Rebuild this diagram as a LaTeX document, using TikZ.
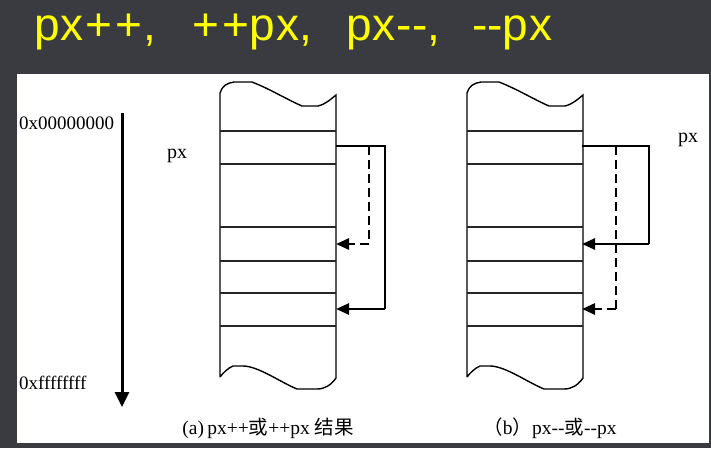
\documentclass[tikz,border=0pt]{standalone}
\usepackage{fontspec}
\setmainfont[Ligatures=NoCommon]{Liberation Serif}
\newfontfamily\titlefont{Liberation Sans}
\newfontfamily\cjk{Noto Sans CJK SC}
\usetikzlibrary{arrows.meta}
\definecolor{bgdark}{RGB}{58,59,64}
\definecolor{titleyellow}{RGB}{255,255,0}
\tikzset{
  stackline/.style={line width=1.4pt, draw=black},
  rowline/.style={line width=1.6pt, draw=black!85},
  conn/.style={line width=1.6pt, draw=black},
  shaft/.style={line width=2.6pt, draw=black, -{Triangle[length=13pt,width=11pt]}},
  dashconn/.style={line width=2.8pt, draw=black, dash pattern=on 9pt off 5pt},
  dashtip/.style={line width=2.8pt, draw=black, dash pattern=on 9pt off 5pt, -{Triangle[length=13pt,width=11pt]}},
  lbl/.style={inner sep=0pt, font=\fontsize{19}{19}\selectfont},
  pxlbl/.style={inner sep=0pt, font=\fontsize{20}{20}\selectfont},
  caption/.style={inner sep=0pt, font=\fontsize{19.5}{19.5}\selectfont},
}
\newcommand{\memstack}{%
  \draw[stackline] (220,377) -- (220,93)
    .. controls (222,86) and (227,83) .. (234,82) -- (252,82)
    .. controls (270,89) and (288,100) .. (302,106) -- (318,106)
    .. controls (326,104) and (331,99) .. (336,95)
    -- (336,378)
    .. controls (331,385) and (325,389) .. (317,389) -- (297,389)
    .. controls (280,382) and (258,366) .. (243,366) -- (233,366)
    .. controls (228,368) and (223,373) .. (220,377);
  \foreach \yy in {131,164,227,261,293,326}
    \draw[rowline] (220,\yy) -- (336,\yy);
}
\begin{document}
\begin{tikzpicture}[x=1pt,y=-1pt]
\useasboundingbox (0,0) rectangle (711,448);
\fill[bgdark] (0,0) rectangle (711,448);
\fill[white] (17,74) rectangle (709,443);

% title
\node[anchor=base west, inner sep=0pt, text=titleyellow,
      font=\titlefont\fontsize{46}{46}\selectfont] (title) at (34,40)
  {p\kern1ptx\kern2pt+\kern3pt+\kern1pt,\hspace{36pt}+\kern3pt+\kern1ptp\kern1ptx,\hspace{34pt}p\kern1ptx\kern1pt-{}-,\hspace{32pt}-{}-p\kern1ptx};

% address axis
\coordinate (axtop) at (122,113);
\coordinate (axbot) at (122,407);
\draw[line width=3pt, -{Triangle[length=15pt,width=14pt]}] (axtop) -- (axbot);
\node[lbl, anchor=west] (lo) at (19,123) {0x00000000};
\node[lbl, anchor=west] (hi) at (19,383) {0xffffffff};

% stack (a)
\memstack
\node[pxlbl] (pxa) at (177,156) {px};
\coordinate (a-src) at (336,146);
\coordinate (a-corner) at (385,309);
\coordinate (a-dash) at (369,244);
\coordinate (a-t2) at (336,244);
\coordinate (a-t3) at (336,309);
\draw[conn] (a-src) -| (a-corner);
\draw[shaft] (a-corner) -- (a-t3);
\draw[dashconn] (a-src -| a-dash) -- (a-dash);
\draw[dashtip] (a-dash) -- (a-t2);
\node[caption] (capa) at (268,428) {(a)\,px++{\cjk 或}++px {\cjk 结果}};

% stack (b)
\begin{scope}[xshift=247pt]
\memstack
\end{scope}
\node[pxlbl] (pxb) at (688,140) {px};
\coordinate (b-src) at (582,146);
\coordinate (b-corner) at (649,244);
\coordinate (b-dash) at (616,309);
\coordinate (b-t2) at (582,244);
\coordinate (b-t3) at (582,309);
\draw[conn] (b-src) -| (b-corner);
\draw[shaft] (b-corner) -- (b-t2);
\draw[dashconn] (b-src -| b-dash) -- (b-dash);
\draw[dashtip] (b-dash) -- (b-t3);
\node[caption] (capb) at (550,428) {{\cjk （}b{\cjk ）}px-{}-{\cjk 或}-{}-px};
\end{tikzpicture}
\end{document}
